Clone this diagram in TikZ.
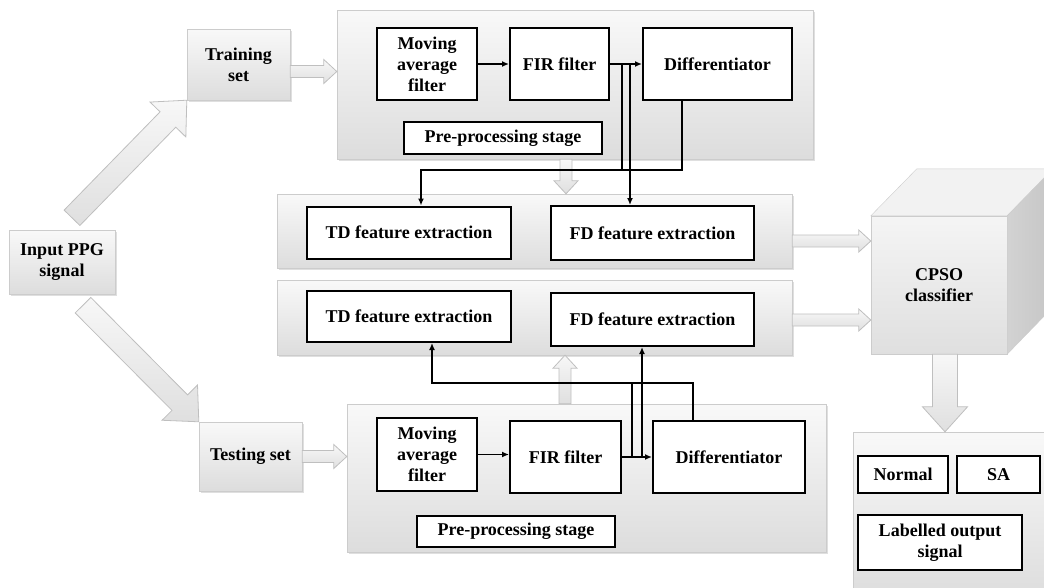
\documentclass[tikz,border=0pt]{standalone}
\usepackage{fontspec}
\setmainfont{Liberation Serif}
\usetikzlibrary{calc,arrows.meta,shadows}

% wide grey arrow: tail, tip, half shaft, half head, head length
\newcommand{\blockarrow}[5]{%
  \coordinate (ba-tail) at (#1);
  \coordinate (ba-tip) at (#2);
  \coordinate (ba-head) at ($(ba-tip)!#5!(ba-tail)$);
  \path[fatarrow] ($(ba-tail)!#3!90:(ba-tip)$) -- ($(ba-head)!#3!90:(ba-tip)$)
    -- ($(ba-head)!#4!90:(ba-tip)$) -- (ba-tip) -- ($(ba-head)!#4!-90:(ba-tip)$)
    -- ($(ba-head)!#3!-90:(ba-tip)$) -- ($(ba-tail)!#3!-90:(ba-tip)$) -- cycle;
}

\begin{document}
\begin{tikzpicture}[x=1pt, y=-1pt,
			% Define the styles for the blocks
			every node/.style={font=\fontsize{18}{21}\selectfont\bfseries, align=center, inner sep=2pt},
			panel/.style={draw=gray!40, top color=gray!5, bottom color=gray!27,
				drop shadow={opacity=0.25, shadow xshift=1.5pt, shadow yshift=-1.5pt}},
			box/.style={draw, line width=2pt, fill=white},
			fatarrow/.style={draw=gray!50, line width=0.8pt, top color=gray!6, bottom color=gray!25},
			flow/.style={line width=1.8pt, -{Latex[length=7pt,width=6pt]}},
			bus/.style={line width=1.8pt}
			]
			\useasboundingbox (0,0) rectangle (1044,587);
			\clip (0,0) rectangle (1044,587);
			
			% inputs
			\node (inppg) at (62,262) [panel, minimum width=106pt, minimum height=64pt] {Input PPG\\signal};
			\node (train) at (238.5,64.5) [panel, minimum width=103pt, minimum height=71pt] {Training\\set};
			\node (test) at (250.5,456.5) [panel, minimum width=103pt, minimum height=69pt] {Testing set};
			
			% training pre-processing
			\node (prep1) at (575,84.5) [panel, minimum width=476pt, minimum height=149pt] {};
			\node (ma1) at (427,64) [box, minimum width=100pt, minimum height=72pt] {Moving\\average\\filter};
			\node (fir1) at (559.5,64) [box, minimum width=99pt, minimum height=72pt] {FIR filter};
			\node (diff1) at (717.5,64) [box, minimum width=149pt, minimum height=72pt] {Differentiator};
			\node (stage1) at (503,138) [box, minimum width=198pt, minimum height=32pt] {Pre-processing stage};
			
			% feature extraction
			\node (feat1) at (534.5,231) [panel, minimum width=515pt, minimum height=74pt] {};
			\node (td1) at (409,232.5) [box, minimum width=204pt, minimum height=52pt] {TD feature extraction};
			\node (fd1) at (652.5,233) [box, minimum width=203pt, minimum height=54pt] {FD feature extraction};
			\node (feat2) at (534.5,317.5) [panel, minimum width=515pt, minimum height=75pt] {};
			\node (td2) at (409,316.5) [box, minimum width=204pt, minimum height=51pt] {TD feature extraction};
			\node (fd2) at (652.5,319.5) [box, minimum width=203pt, minimum height=53pt] {FD feature extraction};
			
			% testing pre-processing
			\node (prep2) at (586.5,478) [panel, minimum width=479pt, minimum height=148pt] {};
			\node (ma2) at (427,454.5) [box, minimum width=100pt, minimum height=73pt] {Moving\\average\\filter};
			\node (fir2) at (565.5,457) [box, minimum width=111pt, minimum height=72pt] {FIR filter};
			\node (diff2) at (729,457) [box, minimum width=152pt, minimum height=72pt] {Differentiator};
			\node (stage2) at (516,531.5) [box, minimum width=198pt, minimum height=31pt] {Pre-processing stage};
			
			% classifier cube
			\node (cpso) at (939,285) [draw=gray!40, top color=gray!8, bottom color=gray!25,
				minimum width=136pt, minimum height=138pt] {CPSO\\classifier};
			\path[draw=gray!40, fill=gray!10] (cpso.north west) -- ++(46,-47) -- ++(136,0) -- (cpso.north east) -- cycle;
			\path[draw=gray!40, left color=gray!35, right color=gray!45] (cpso.north east) -- ++(46,-47) -- ++(0,138) -- (cpso.south east) -- cycle;
			
			% output
			\node (outp) at (961.5,516) [panel, minimum width=217pt, minimum height=168pt] {};
			\node (normal) at (903,474.5) [box, minimum width=90pt, minimum height=37pt] {Normal};
			\node (sa) at (998.5,474.5) [box, minimum width=83pt, minimum height=37pt] {SA};
			\node (label) at (940,542.5) [box, minimum width=164pt, minimum height=55pt] {Labelled output\\signal};
			
			% wide arrows
			\coordinate (up1) at ([xshift=10pt,yshift=12pt]inppg.north);
			\coordinate (dn1) at ([xshift=21pt,yshift=-11pt]inppg.south);
			\coordinate (tr1) at ([yshift=-7pt]train.east);
			\coordinate (d1) at ([xshift=-9pt]prep1.south);
			\coordinate (u1) at ([xshift=-21.5pt]prep2.north);
			\coordinate (c1) at ([yshift=-10pt]feat1.east);
			\coordinate (c2) at ([yshift=-2.5pt]feat2.east);
			\coordinate (o1) at ([xshift=6pt]cpso.south);
			\blockarrow{up1}{train.south west}{11pt}{25pt}{27pt}
			\blockarrow{dn1}{test.north west}{11pt}{25pt}{27pt}
			\blockarrow{tr1}{tr1 -| prep1.west}{6pt}{12pt}{13pt}
			\blockarrow{test.east}{test.east -| prep2.west}{6pt}{12pt}{13pt}
			\blockarrow{d1}{d1 |- feat1.north}{6pt}{12pt}{13pt}
			\blockarrow{u1}{u1 |- feat2.south}{6pt}{12pt}{13pt}
			\blockarrow{c1}{c1 -| cpso.west}{6pt}{11pt}{12pt}
			\blockarrow{c2}{c2 -| cpso.west}{6pt}{11pt}{12pt}
			\blockarrow{o1}{o1 |- outp.north}{12.5pt}{22.5pt}{25pt}
			
			% top signal lines
			\draw[flow] (ma1) -- (fir1);
			\draw[flow] (fir1) -- (diff1);
			\coordinate (bus1) at (0,170);
			\coordinate (t1) at ([xshift=12pt]td1.north);
			\coordinate (f1a) at ([xshift=12pt]fir1.east);
			\coordinate (f1b) at ([xshift=20pt]fir1.east);
			\coordinate (d1out) at ([xshift=-35.5pt]diff1.south);
			\draw[flow] (d1out) |- (bus1 -| t1) -- (t1);
			\draw[bus] (f1a) -- (f1a |- bus1);
			\draw[flow] (f1b) -- (f1b |- fd1.north);
			
			% bottom signal lines
			\draw[flow] (ma2.east) -- (ma2.east -| fir2.west);
			\draw[flow] (fir2.east) -- (fir2.east -| diff2.west);
			\coordinate (bus2) at (0,383);
			\coordinate (t2) at ([xshift=23pt]td2.south);
			\coordinate (f2a) at ([xshift=10pt]fir2.east);
			\coordinate (f2b) at ([xshift=20pt]fir2.east);
			\coordinate (d2out) at ([xshift=-36pt]diff2.north);
			\draw[flow] (d2out) |- (bus2 -| t2) -- (t2);
			\draw[bus] (f2a) -- (f2a |- bus2);
			\draw[flow] (f2b) -- (f2b |- fd2.south);
			
		\end{tikzpicture}
\end{document}
